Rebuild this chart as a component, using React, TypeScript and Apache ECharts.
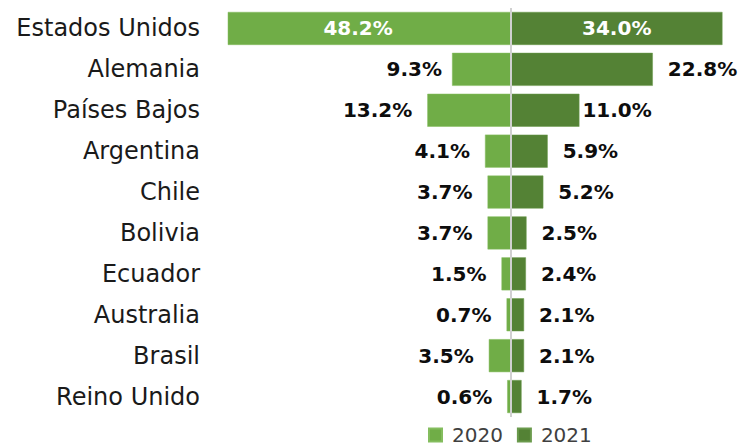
import React, { useEffect, useRef } from "react";
import * as echarts from "echarts";

const categories = [
  "Estados Unidos",
  "Alemania",
  "Países Bajos",
  "Argentina",
  "Chile",
  "Bolivia",
  "Ecuador",
  "Australia",
  "Brasil",
  "Reino Unido",
];
const values2020 = [48.2, 9.3, 13.2, 4.1, 3.7, 3.7, 1.5, 0.7, 3.5, 0.6];
const values2021 = [34.0, 22.8, 11.0, 5.9, 5.2, 2.5, 2.4, 2.1, 2.1, 1.7];
const seriesNames = ["2020", "2021"];

const LIGHT = "#70AD47";
const DARK = "#548235";

const fmt = (v: number) => Math.abs(v).toFixed(1) + "%";

export default function App() {
  const ref = useRef<HTMLDivElement>(null);
  useEffect(() => {
    document.body.style.margin = "0";
    if (!ref.current) return;
    const chart = echarts.init(ref.current, undefined, { renderer: "svg" });
    const labelBase = {
      show: true,
      fontFamily: "DejaVu Sans",
      fontWeight: "bold" as const,
      fontSize: 20,
      color: "#0d0d0d",
      distance: 15,
      formatter: (p: any) => fmt(p.value),
    };
    const insideLabel = { position: "inside", color: "#ffffff", distance: 0 };
    // label distance adjustments seen in the original layout
    const dist2020: Record<number, number> = { 1: 10 };
    const dist2021: Record<number, number> = { 2: 3 };
    const MIN2020 = -44.64;
    const pxPerUnit2020 = (511 - 228) / -MIN2020;
    const d2020 = values2020.map((v, i) => {
      if (v > 30) {
        const overflow = v + MIN2020; // amount clipped
        return {
          value: -v,
          label: { ...insideLabel, offset: [-(overflow * pxPerUnit2020) / 2, 0] },
        };
      }
      return dist2020[i] !== undefined
        ? { value: -v, label: { distance: dist2020[i] } }
        : { value: -v };
    });
    const d2021 = values2021.map((v, i) => {
      if (v > 30) return { value: v, label: { ...insideLabel } };
      return dist2021[i] !== undefined
        ? { value: v, label: { distance: dist2021[i] } }
        : { value: v };
    });
    chart.setOption({
      animation: false,
      grid: { left: 228, right: 4, top: 8, bottom: 30, containLabel: false },
      legend: {
        data: seriesNames,
        left: 428,
        top: 425,
        padding: 0,
        itemWidth: 13,
        itemHeight: 13,
        itemGap: 14,
        icon: "rect",
        textStyle: {
          fontFamily: "DejaVu Sans",
          fontSize: 20,
          color: "#404040",
          padding: [0, 0, 0, 5],
        },
      },
      xAxis: [
        { type: "value", min: MIN2020, max: 36.12, show: false },
        { type: "value", min: -45.5, max: 36.82, show: false },
      ],
      yAxis: {
        type: "category",
        data: categories,
        inverse: true,
        axisLine: { show: false },
        axisTick: { show: false },
        splitLine: { show: false },
        axisLabel: {
          margin: 28,
          fontFamily: "DejaVu Sans",
          fontSize: 24,
          color: "#1a1a1a",
        },
      },
      series: [
        {
          name: seriesNames[0],
          type: "bar",
          xAxisIndex: 0,
          data: d2020,
          barWidth: 33,
          barGap: "-100%",
          clip: true,
          itemStyle: { color: LIGHT, borderColor: "#84bd5e", borderWidth: 0.5 },
          label: { ...labelBase, position: "left" },
        },
        {
          name: seriesNames[1],
          type: "bar",
          xAxisIndex: 1,
          data: d2021,
          barWidth: 33,
          barGap: "-100%",
          itemStyle: { color: DARK, borderColor: "#6a9a4c", borderWidth: 0.5 },
          label: { ...labelBase, position: "right" },
          markLine: {
            silent: true,
            symbol: ["none", "none"],
            label: { show: false },
            lineStyle: { color: "#d0d0d0", width: 2, type: "solid" },
            data: [{ xAxis: 0 }],
            z: 10,
          },
        },
      ],
    });
    return () => chart.dispose();
  }, []);
  return <div ref={ref} style={{ width: 744, height: 447 }} />;
}
